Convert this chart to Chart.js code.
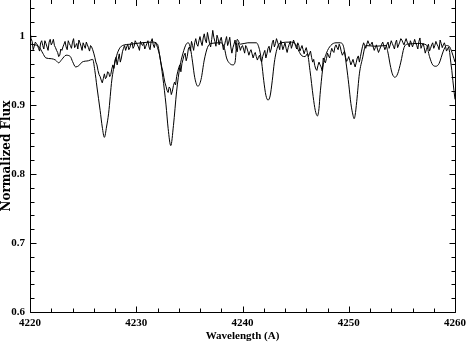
<!DOCTYPE html>
<html>
<head>
<meta charset="utf-8">
<script src="https://cdn.jsdelivr.net/npm/chart.js@4.4.1/dist/chart.umd.min.js"></script>
<style>
  html, body { margin: 0; padding: 0; background: #fff; }
  #wrap { width: 467px; height: 343px; }
</style>
</head>
<body>
<div id="wrap"><canvas id="chart"></canvas></div>
<script>
// observed spectrum, sampled every 0.1 A from 4220 (one row per angstrom)
const obsStart = 4220;
const obsStep = 0.1;
const obsFlux = [
  1.008, 0.996, 0.992, 0.980, 0.985, 0.991, 0.989, 0.987, 0.982, 0.978,
  0.990, 0.993, 0.986, 0.981, 0.993, 0.989, 0.984, 0.979, 0.991, 0.995,
  0.987, 0.990, 0.995, 0.986, 0.983, 0.979, 0.976, 0.970, 0.972, 0.981,
  0.979, 0.984, 0.988, 0.992, 0.984, 0.980, 0.993, 0.989, 0.986, 0.982,
  0.991, 0.996, 0.983, 0.986, 0.989, 0.981, 0.994, 0.990, 0.985, 0.979,
  0.990, 0.986, 0.982, 0.991, 0.987, 0.983, 0.978, 0.986, 0.984, 0.980,
  0.975, 0.969, 0.962, 0.958, 0.950, 0.944, 0.941, 0.936, 0.932, 0.938,
  0.945, 0.938, 0.940, 0.948, 0.947, 0.941, 0.944, 0.952, 0.958, 0.953,
  0.965, 0.969, 0.958, 0.966, 0.974, 0.962, 0.968, 0.977, 0.982, 0.986,
  0.979, 0.984, 0.988, 0.980, 0.983, 0.989, 0.991, 0.982, 0.985, 0.993,
  0.990, 0.987, 0.984, 0.979, 0.992, 0.988, 0.986, 0.990, 0.981, 0.985,
  0.989, 0.993, 0.984, 0.980, 0.992, 0.996, 0.987, 0.983, 0.991, 0.988,
  0.983, 0.978, 0.972, 0.963, 0.955, 0.949, 0.940, 0.932, 0.927, 0.921,
  0.918, 0.926, 0.924, 0.915, 0.920, 0.928, 0.933, 0.929, 0.941, 0.948,
  0.954, 0.958, 0.948, 0.960, 0.966, 0.972, 0.975, 0.964, 0.970, 0.981,
  0.984, 0.978, 0.992, 0.986, 0.979, 0.990, 0.996, 0.988, 0.985, 0.993,
  0.999, 0.991, 0.986, 0.997, 1.003, 0.994, 0.990, 1.005, 0.997, 0.989,
  0.984, 0.995, 1.008, 0.998, 0.992, 0.985, 1.001, 0.996, 0.987, 0.994,
  0.998, 0.989, 0.980, 0.986, 0.993, 0.999, 0.986, 0.991, 0.998, 0.984,
  0.975, 0.983, 0.988, 0.994, 0.982, 0.977, 0.990, 0.986, 0.979, 0.984,
  0.986, 0.981, 0.975, 0.986, 0.983, 0.978, 0.972, 0.977, 0.980, 0.974,
  0.968, 0.973, 0.976, 0.970, 0.965, 0.969, 0.972, 0.966, 0.962, 0.970,
  0.975, 0.979, 0.968, 0.974, 0.982, 0.985, 0.976, 0.981, 0.990, 0.994,
  0.984, 0.989, 0.996, 0.991, 0.986, 0.980, 0.993, 0.987, 0.980, 0.985,
  0.990, 0.982, 0.976, 0.983, 0.988, 0.992, 0.982, 0.987, 0.994, 0.990,
  0.985, 0.981, 0.990, 0.986, 0.978, 0.982, 0.986, 0.980, 0.974, 0.979,
  0.983, 0.976, 0.970, 0.974, 0.978, 0.969, 0.962, 0.966, 0.957, 0.952,
  0.950, 0.957, 0.962, 0.958, 0.955, 0.949, 0.968, 0.964, 0.961, 0.967,
  0.975, 0.971, 0.968, 0.976, 0.982, 0.978, 0.976, 0.984, 0.987, 0.983,
  0.980, 0.988, 0.984, 0.977, 0.972, 0.975, 0.978, 0.969, 0.963, 0.966,
  0.970, 0.964, 0.958, 0.962, 0.966, 0.960, 0.955, 0.961, 0.968, 0.971,
  0.962, 0.970, 0.978, 0.985, 0.990, 0.986, 0.982, 0.988, 0.993, 0.989,
  0.986, 0.988, 0.991, 0.984, 0.979, 0.983, 0.987, 0.981, 0.976, 0.980,
  0.984, 0.988, 0.991, 0.985, 0.980, 0.984, 0.988, 0.991, 0.982, 0.987,
  0.993, 0.989, 0.985, 0.981, 0.990, 0.994, 0.983, 0.987, 0.991, 0.996,
  0.994, 0.990, 0.987, 0.992, 0.996, 0.991, 0.988, 0.984, 0.993, 0.989,
  0.984, 0.989, 0.995, 0.990, 0.986, 0.981, 0.992, 0.997, 0.982, 0.986,
  0.989, 0.983, 0.975, 0.980, 0.984, 0.988, 0.978, 0.982, 0.987, 0.990,
  0.982, 0.986, 0.992, 0.988, 0.985, 0.980, 0.994, 0.989, 0.983, 0.987,
  0.990, 0.985, 0.978, 0.981, 0.984, 0.976, 0.962, 0.950, 0.935, 0.921,
  0.908
];

// synthetic (model) spectrum
const modelWave = [
  4220.0, 4220.8, 4221.2, 4221.5, 4222.0, 4222.4, 4222.7, 4223.0, 4223.4, 4223.8,
  4224.0, 4224.3, 4224.6, 4224.9, 4225.5, 4225.9, 4226.1, 4226.3, 4226.6, 4226.8,
  4227.0, 4227.2, 4227.4, 4227.7, 4228.0, 4228.3, 4228.7, 4229.5, 4230.5, 4231.5,
  4232.0, 4232.2, 4232.5, 4232.8, 4233.0, 4233.25, 4233.5, 4233.8, 4234.1, 4234.4,
  4234.7, 4234.9, 4235.1, 4235.3, 4235.5, 4235.8, 4236.1, 4236.4, 4236.7, 4237.0,
  4238.0, 4238.3, 4238.5, 4238.8, 4239.1, 4239.3, 4239.5, 4239.8, 4240.5, 4241.3,
  4241.6, 4241.8, 4242.0, 4242.2, 4242.4, 4242.6, 4242.8, 4243.0, 4243.3, 4243.6,
  4244.5, 4245.0, 4245.3, 4245.6, 4245.9, 4246.1, 4246.35, 4246.65, 4246.85, 4247.05,
  4247.2, 4247.3, 4247.6, 4247.9, 4248.3, 4248.8, 4249.2, 4249.5, 4249.8, 4250.0,
  4250.2, 4250.4, 4250.5, 4250.6, 4250.75, 4251.0, 4251.3, 4251.6, 4252.5, 4253.5,
  4253.7, 4253.9, 4254.1, 4254.35, 4254.6, 4254.9, 4255.2, 4255.5, 4256.5, 4257.3,
  4257.6, 4257.9, 4258.2, 4258.5, 4258.9, 4259.2, 4259.5, 4259.8, 4260.0
];
const modelFlux = [
  0.988, 0.985, 0.975, 0.968, 0.967, 0.965, 0.961, 0.966, 0.972, 0.970,
  0.963, 0.955, 0.957, 0.962, 0.964, 0.966, 0.950, 0.926, 0.892, 0.868,
  0.853, 0.868, 0.888, 0.936, 0.962, 0.978, 0.986, 0.988, 0.990, 0.991,
  0.988, 0.972, 0.940, 0.900, 0.866, 0.841, 0.870, 0.920, 0.955, 0.975,
  0.988, 0.990, 0.982, 0.962, 0.940, 0.927, 0.937, 0.965, 0.983, 0.989,
  0.990, 0.982, 0.968, 0.960, 0.958, 0.962, 0.995, 0.988, 0.990, 0.990,
  0.980, 0.962, 0.935, 0.914, 0.907, 0.913, 0.935, 0.962, 0.984, 0.990,
  0.991, 0.988, 0.978, 0.971, 0.970, 0.974, 0.950, 0.912, 0.892, 0.884,
  0.895, 0.915, 0.958, 0.975, 0.986, 0.990, 0.990, 0.985, 0.955, 0.930,
  0.902, 0.885, 0.880, 0.885, 0.905, 0.945, 0.968, 0.986, 0.985, 0.986,
  0.975, 0.958, 0.945, 0.940, 0.945, 0.962, 0.983, 0.988, 0.989, 0.987,
  0.970, 0.958, 0.956, 0.960, 0.978, 0.986, 0.984, 0.972, 0.962
];

const xTicks = [4220, 4230, 4240, 4250, 4260];
const yTicks = [0.6, 0.7, 0.8, 0.9, 1];
const xMinorStep = 2;
const yMinorStep = 0.02;

const labelFont = { family: "Liberation Serif", size: 11, weight: "bold" };

// frame with inward ticks on all four sides (top line sits just off the canvas)
const framePlugin = {
  id: "frame",
  afterDraw(chart) {
    const { ctx, chartArea: a, scales } = chart;
    const xs = scales.x;
    const ys = scales.y;
    const L = Math.round(a.left) + 0.5;
    const R = Math.round(a.right) + 0.5;
    const B = Math.round(a.bottom) + 0.5;
    const T = Math.round(a.top);
    ctx.save();
    ctx.strokeStyle = "#000";
    ctx.lineWidth = 1;
    ctx.beginPath();
    ctx.moveTo(L, T);
    ctx.lineTo(L, B);
    ctx.lineTo(R, B);
    ctx.lineTo(R, T);

    for (let v = xs.min; v <= xs.max + 1e-9; v += xMinorStep) {
      const px = Math.round(xs.getPixelForValue(v)) + 0.5;
      const len = xTicks.some(t => Math.abs(t - v) < 1e-6) ? 6 : 4;
      ctx.moveTo(px, B);
      ctx.lineTo(px, B - len);
      ctx.moveTo(px, T);
      ctx.lineTo(px, T + len);
    }
    for (let v = ys.min; v <= ys.max + 1e-9; v += yMinorStep) {
      const py = Math.round(ys.getPixelForValue(v)) + 0.5;
      const len = yTicks.some(t => Math.abs(t - v) < 1e-6) ? 6 : 4;
      ctx.moveTo(L, py);
      ctx.lineTo(L + len, py);
      ctx.moveTo(R, py);
      ctx.lineTo(R - len, py);
    }
    ctx.stroke();
    ctx.restore();
  }
};

const ctx = document.getElementById("chart");

new Chart(ctx, {
  type: "line",
  data: {
    datasets: [
      {
        label: "Observed",
        data: obsFlux.map((f, i) => ({ x: obsStart + i * obsStep, y: f })),
        borderColor: "#000",
        borderWidth: 1,
        pointRadius: 0,
        tension: 0
      },
      {
        label: "Model",
        data: modelWave.map((w, i) => ({ x: w, y: modelFlux[i] })),
        borderColor: "#000",
        borderWidth: 1,
        pointRadius: 0,
        cubicInterpolationMode: "monotone"
      }
    ]
  },
  options: {
    responsive: true,
    maintainAspectRatio: false,
    animation: false,
    layout: { padding: { left: 0, right: 12, top: 0, bottom: 0 } },
    plugins: {
      legend: { display: false },
      tooltip: { enabled: false }
    },
    scales: {
      x: {
        type: "linear",
        min: 4220,
        max: 4260,
        grid: { display: false, drawTicks: false },
        border: { display: false },
        afterBuildTicks: s => { s.ticks = xTicks.map(v => ({ value: v })); },
        afterFit: s => { s.height = 31; s.paddingLeft = 0; s.paddingRight = 0; },
        ticks: {
          color: "#000",
          font: labelFont,
          padding: 5,
          maxRotation: 0,
          callback: v => String(v)
        },
        title: {
          display: true,
          text: "Wavelength (A)",
          color: "#000",
          font: labelFont,
          padding: { top: 0, bottom: 0 }
        }
      },
      y: {
        type: "linear",
        min: 0.6,
        max: 1.052,
        grid: { display: false, drawTicks: false },
        border: { display: false },
        afterBuildTicks: s => { s.ticks = yTicks.map(v => ({ value: v })); },
        afterFit: s => { s.width = 30; s.paddingTop = 0; s.paddingBottom = 0; },
        ticks: {
          color: "#000",
          font: labelFont,
          padding: 5,
          callback: v => (Math.abs(v - 1) < 1e-9 ? "1" : v.toFixed(1))
        },
        title: {
          display: true,
          text: "Normalized Flux",
          color: "#000",
          font: { family: "DejaVu Serif", size: 12, weight: "bold" },
          padding: { top: 0, bottom: 0 }
        }
      }
    }
  },
  plugins: [framePlugin]
});
</script>
</body>
</html>
